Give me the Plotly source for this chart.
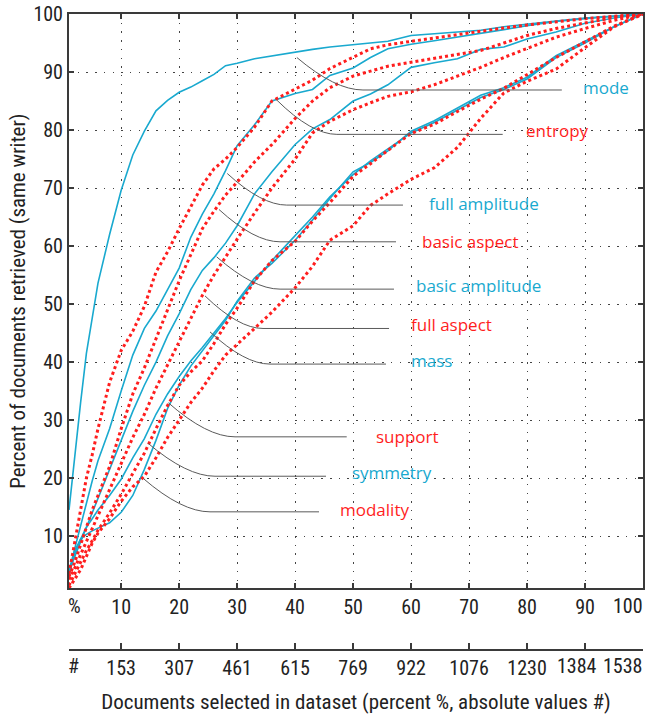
import plotly.graph_objects as go

# ---------------- data ----------------
pct = [1, 2, 3, 4, 5, 6, 8, 10, 12, 14, 16, 18, 20, 22, 24, 26, 28, 30, 33, 36,
       40, 43, 46, 50, 53, 56, 60, 64, 68, 72, 76, 80, 85, 90, 95, 100]

mode = [14.5, 24, 33, 41.5, 47.2, 53.6, 62, 69.6, 75.7, 79.8, 83.3, 85.1, 86.5, 87.4, 88.5, 89.6, 91.1, 91.5,
        92.3, 92.8, 93.5, 93.9, 94.3, 94.7, 95.0, 95.3, 96.3, 96.6, 96.8, 97.2, 97.8, 98.3, 98.8, 99.3, 99.6, 100]
full_amplitude = [4, 8, 12, 15.5, 19.5, 23, 28.5, 35, 41.2, 45.8, 48.8, 52.5, 56.2, 61.5, 65.5, 69, 73, 77.3,
                  80.9, 85, 86.3, 87, 89.4, 90.7, 92.5, 94, 94.8, 95.4, 96, 96.6, 97.3, 98, 98.7, 99.2, 99.6, 100]
basic_amplitude = [4, 6.5, 9, 11.5, 14, 16.5, 21.5, 26.5, 31.5, 36, 40, 44.5, 48.3, 52.5, 55.8, 58, 60.5, 63.5,
                   69, 72.8, 77.5, 80.2, 81.8, 85, 86.2, 87.8, 90.8, 91.6, 92.3, 93.9, 94.3, 95.7, 96.9, 98.4, 99.3, 100]
mass = [3.5, 7, 9.5, 10.3, 10.9, 11.4, 12.3, 14.1, 17, 21.5, 26.5, 32, 36, 39.3, 42, 44.6, 47.2, 50.5,
        54.5, 57, 61, 64.5, 68.2, 72.8, 74.4, 76.4, 79.8, 81.6, 83.8, 86, 87.3, 89.1, 92.8, 95.3, 97.8, 100]
symmetry = [3, 7.5, 9.5, 11.5, 13, 14.5, 17, 19.8, 23.5, 26.8, 31, 34.5, 37.5, 40.2, 42.5, 45, 47.5, 50.3,
            54, 57.5, 61.8, 65, 68.5, 72.3, 74.7, 76.8, 79.5, 81.3, 83.5, 85.6, 87, 88.8, 92.5, 95, 97.8, 100]

entropy = [3.5, 9, 14.5, 20, 24, 28.5, 36.5, 42, 45.3, 49.6, 55.5, 59, 63, 66.8, 70.5, 73.3, 75, 77,
           80.5, 85, 87.1, 88.6, 90.6, 92.6, 94, 94.7, 95.3, 95.8, 96.4, 97.1, 97.6, 98.1, 98.7, 99.2, 99.6, 100]
basic_aspect = [3, 5.5, 8.5, 11.5, 14.5, 17, 22, 28.5, 34.5, 39, 44, 49, 54, 58.5, 63, 66, 68.8, 71,
                74.5, 77.5, 82, 85, 87.3, 89.3, 90.2, 91, 91.7, 92.4, 93, 93.7, 95, 96.3, 97.5, 98.5, 99.4, 100]
full_aspect = [2.5, 4.5, 6.8, 9, 11.3, 13.5, 18, 22.5, 27, 31, 35.5, 39.5, 43.5, 47.5, 51.5, 55, 58.2, 61.2,
               65.7, 70, 75, 79.5, 81.5, 83.5, 84.7, 85.8, 86.6, 87.8, 89.3, 90.8, 92.5, 94, 96, 97.5, 98.9, 100]
support = [1.5, 3.5, 5.5, 7.5, 9.2, 11, 14, 17.2, 20.8, 24.3, 28.5, 32.5, 36, 38.3, 40.2, 43.2, 46.5, 49.3,
           54, 57.5, 60.8, 64.3, 67.5, 72, 74.2, 76.5, 79.4, 81, 83.2, 85.3, 87.2, 89.5, 92.5, 95.2, 97.9, 100]
modality = [1, 2.5, 4.2, 6.5, 8.8, 10.5, 13, 16, 18.5, 20.3, 23.5, 27, 30, 33, 35.5, 38.5, 41.2, 43,
            45.8, 48.6, 52.8, 56.5, 61, 63.5, 67, 69, 71.5, 73.5, 77, 82, 86.4, 88.4, 90.5, 94.2, 97.8, 100]

tick_pos = [1, 10, 20, 30, 40, 50, 60, 70, 80, 90, 100]
tick_pct = ["%", "10", "20", "30", "40", "50", "60", "70", "80", "90", "100"]
tick_abs = ["#", "153", "307", "461", "615", "769", "922", "1076", "1230", "1384", "1538"]
y_ticks = [10, 20, 30, 40, 50, 60, 70, 80, 90, 100]

blue_series = [("mode", mode), ("full amplitude", full_amplitude), ("basic amplitude", basic_amplitude),
               ("mass", mass), ("symmetry", symmetry)]
red_series = [("entropy", entropy), ("basic aspect", basic_aspect), ("full aspect", full_aspect),
              ("support", support), ("modality", modality)]

# label annotations: (text, colour key, label x, label y, leader start x, start y, elbow x, line y, line end x)
labels = [
    ("mode", "b", 89.25, 87.4, 40.3, 92.5, 51.7, 86.9, 86.0),
    ("entropy", "r", 79.4, 79.9, 36.8, 85.2, 47.2, 79.25, 75.8),
    ("full amplitude", "b", 62.8, 67.35, 28.3, 72.5, 38.55, 67.06, 58.6),
    ("basic aspect", "r", 61.5, 60.73, 26.87, 66.3, 37.4, 60.73, 57.4),
    ("basic amplitude", "b", 60.5, 53.26, 26.47, 58.14, 37.4, 52.57, 57.05),
    ("full aspect", "r", 59.7, 46.48, 24.46, 51.4, 34.46, 45.79, 56.2),
    ("mass", "b", 59.7, 40.32, 25.32, 45.2, 35.67, 39.65, 55.67),
    ("support", "r", 53.6, 27.11, 18.13, 32.98, 29.63, 27.11, 48.9),
    ("symmetry", "b", 49.5, 20.9, 14.68, 25.96, 26.18, 20.32, 45.33),
    ("modality", "r", 47.45, 14.58, 13.81, 19.93, 25.32, 14.18, 44.12),
]

BLUE = "#19a9cf"
RED = "#ff1e1e"
COLORS = {"b": BLUE, "r": RED}
NARROW = "Liberation Sans Narrow, Arial Narrow, Roboto Condensed, DejaVu Sans Condensed, sans-serif"
LABEL_FONT = "Open Sans, Noto Sans, sans-serif"
TICKFONT = dict(family=NARROW, size=20, color="#222")

fig = go.Figure()
for name, ys in blue_series:
    fig.add_trace(go.Scatter(x=pct, y=ys, mode="lines", name=name,
                             line=dict(color=BLUE, width=1.6), hoverinfo="skip"))
for name, ys in red_series:
    fig.add_trace(go.Scatter(x=pct, y=ys, mode="lines", name=name,
                             line=dict(color=RED, width=3, dash="dot"), hoverinfo="skip"))
# carrier trace for the second (absolute-count) axis
fig.add_trace(go.Scatter(x=[None], y=[None], xaxis="x2", yaxis="y", showlegend=False, hoverinfo="skip"))

shapes = []
annotations = []
for text, ck, lx, ly, sx, sy, ex, ey, endx in labels:
    cx = sx + 0.58 * (ex - sx)
    path = f"M {sx},{sy} Q {cx},{ey} {ex},{ey} L {endx},{ey}"
    shapes.append(dict(type="path", xref="x", yref="y", path=path,
                       line=dict(color="#5a5a5a", width=1)))
    annotations.append(dict(x=lx, y=ly, xref="x", yref="y", text=text, showarrow=False,
                            xanchor="left", yanchor="middle",
                            font=dict(family=LABEL_FONT, size=17, color=COLORS[ck])))

plot_bottom_px = 588.3
paper_bottom_px = 650.0
paper_top_px = 14.0
paper_h = paper_bottom_px - paper_top_px
ydom0 = (paper_bottom_px - plot_bottom_px) / paper_h

# end labels of both x scales are set inside the plot edges (as in the original)
row_pct = (paper_bottom_px - 606.0) / paper_h
row_abs = (paper_bottom_px - 666.0) / paper_h
for row, texts in ((row_pct, tick_pct), (row_abs, tick_abs)):
    annotations.append(dict(x=tick_pos[0], y=row, xref="x", yref="paper", text=texts[0], showarrow=False,
                            xanchor="left", yanchor="middle", xshift=-3, font=TICKFONT))
    annotations.append(dict(x=tick_pos[-1], y=row, xref="x", yref="paper", text=texts[-1], showarrow=False,
                            xanchor="right", yanchor="middle", xshift=2, font=TICKFONT))
# second-last absolute label is nudged left to clear the last one
annotations.append(dict(x=tick_pos[-2], y=row_abs, xref="x", yref="paper", text=tick_abs[-2], showarrow=False,
                        xanchor="center", yanchor="middle", xshift=-8, font=TICKFONT))
inner_pct = [""] + tick_pct[1:-1] + [""]
inner_abs = [""] + tick_abs[1:-2] + ["", ""]

axis_common = dict(showline=True, linewidth=2, linecolor="#3a3a3a", ticks="inside", tickcolor="#3a3a3a",
                   tickwidth=1.5, zeroline=False, tickfont=TICKFONT)

fig.update_layout(
    template="none",
    width=645, height=714,
    margin=dict(l=69, r=2, t=14, b=64, autoexpand=False),
    paper_bgcolor="white", plot_bgcolor="white",
    showlegend=False,
    shapes=shapes,
    annotations=annotations,
    xaxis=dict(range=[1, 100], domain=[0, 1], anchor="y", tickmode="array", tickvals=tick_pos,
               ticktext=inner_pct, ticklen=5, mirror="ticks", showgrid=True, gridcolor="#444",
               gridwidth=1.3, griddash="1.5px,7.2px", automargin=False, **axis_common),
    yaxis=dict(range=[1, 100], domain=[ydom0, 1], anchor="x", tickmode="array", tickvals=y_ticks,
               ticklen=5, mirror="ticks", showgrid=True, gridcolor="#444", gridwidth=1.3,
               griddash="1.5px,7.2px", automargin=False,
               title=dict(text="Percent of documents retrieved (same writer)",
                          font=dict(family=NARROW, size=21, color="#222"), standoff=2),
               **axis_common),
    xaxis2=dict(range=[1, 100], overlaying="x", anchor="free", position=0, side="bottom",
                tickmode="array", tickvals=tick_pos, ticktext=inner_abs, ticklen=6, showgrid=False,
                automargin=False,
                title=dict(text="Documents selected in dataset (percent %, absolute values #)",
                           font=dict(family=NARROW, size=21, color="#222"), standoff=14),
                **axis_common),
)

fig.write_html("out.html")
